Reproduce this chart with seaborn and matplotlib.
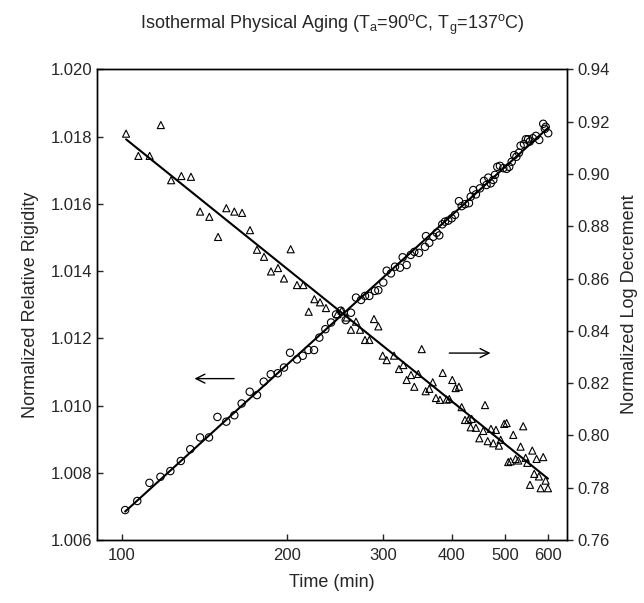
import numpy as np
import seaborn as sns
import matplotlib.pyplot as plt
from matplotlib.ticker import NullLocator, FormatStrFormatter

# Relative rigidity (circles, left axis)
t_rig = [101.3, 106.6, 112.2, 117.5, 122.5, 128.0, 133.2, 138.8, 144.1, 149.3,
         155.0, 160.3, 165.3, 171.0, 176.3, 181.4, 186.8, 192.4, 197.5, 202.6,
         208.6, 213.7, 218.8, 224.1, 229.1, 235.0, 240.7, 245.8, 250.7, 256.0,
         261.7, 267.3, 273.0, 277.6, 282.7, 289.5, 293.6, 299.8, 304.1, 309.6,
         314.9, 321.6, 325.2, 330.7, 336.4, 341.5, 348.3, 357.2, 358.7, 363.7,
         369.9, 375.1, 379.3, 384.1, 388.5, 393.9, 399.6, 405.2, 412.0, 416.7,
         422.6, 429.7, 432.8, 437.5, 442.4, 450.0, 457.7, 462.6, 466.0, 470.8,
         475.9, 479.3, 484.0, 489.4, 496.3, 503.4, 508.9, 514.2, 519.7, 524.5,
         530.2, 533.8, 541.4, 545.8, 550.9, 554.6, 561.9, 569.3, 577.3, 587.1,
         591.1, 593.2, 599.5]
rigidity = [1.00689, 1.00716, 1.00770, 1.00788, 1.00805, 1.00835, 1.00870, 1.00905, 1.00905, 1.00966,
            1.00952, 1.00971, 1.01006, 1.01041, 1.01031, 1.01071, 1.01093, 1.01096, 1.01113, 1.01157,
            1.01137, 1.01148, 1.01165, 1.01165, 1.01202, 1.01227, 1.01247, 1.01271, 1.01282, 1.01254,
            1.01276, 1.01321, 1.01314, 1.01326, 1.01326, 1.01341, 1.01343, 1.01366, 1.01401, 1.01393,
            1.01413, 1.01410, 1.01441, 1.01418, 1.01448, 1.01457, 1.01454, 1.01472, 1.01504, 1.01484,
            1.01502, 1.01514, 1.01506, 1.01539, 1.01547, 1.01550, 1.01557, 1.01567, 1.01608, 1.01593,
            1.01599, 1.01602, 1.01621, 1.01641, 1.01628, 1.01646, 1.01668, 1.01656, 1.01678, 1.01661,
            1.01671, 1.01686, 1.01710, 1.01713, 1.01706, 1.01704, 1.01710, 1.01725, 1.01745, 1.01740,
            1.01752, 1.01773, 1.01778, 1.01792, 1.01792, 1.01785, 1.01795, 1.01802, 1.01790, 1.01838,
            1.01823, 1.01829, 1.01810]

# Log decrement (triangles, right axis)
t_dec = [101.7, 107.1, 112.3, 117.7, 122.9, 128.3, 133.6, 138.8, 144.3, 149.7,
         155.0, 160.3, 165.6, 171.2, 176.3, 181.6, 187.0, 192.6, 197.5, 203.1,
         208.6, 214.2, 219.1, 224.4, 229.8, 235.6, 247.1, 251.7, 257.0, 261.7,
         267.3, 271.8, 277.6, 282.7, 288.3, 293.6, 299.0, 304.1, 313.6, 320.2,
         326.1, 330.7, 336.8, 341.5, 347.3, 352.3, 358.2, 363.7, 369.0, 374.0,
         380.4, 384.8, 391.2, 395.6, 400.6, 406.3, 412.0, 416.7, 422.6, 428.5,
         432.8, 434.6, 442.4, 448.8, 456.3, 459.7, 464.9, 471.3, 475.9, 481.3,
         487.4, 490.9, 498.3, 503.4, 506.8, 511.9, 517.6, 522.8, 528.6, 533.8,
         539.7, 545.2, 549.0, 555.3, 560.7, 565.3, 570.9, 576.6, 580.7, 587.1,
         593.0, 598.9]
log_dec = [0.9154, 0.9069, 0.9069, 0.9187, 0.8976, 0.8992, 0.8989, 0.8856, 0.8836, 0.8759,
           0.8869, 0.8856, 0.8851, 0.8785, 0.8710, 0.8683, 0.8627, 0.8640, 0.8600, 0.8712,
           0.8575, 0.8575, 0.8473, 0.8521, 0.8509, 0.8487, 0.8464, 0.8477, 0.8451, 0.8404,
           0.8435, 0.8404, 0.8365, 0.8365, 0.8445, 0.8417, 0.8305, 0.8288, 0.8305, 0.8254,
           0.8269, 0.8212, 0.8231, 0.8186, 0.8235, 0.8330, 0.8169, 0.8178, 0.8203, 0.8143,
           0.8136, 0.8239, 0.8137, 0.8139, 0.8212, 0.8181, 0.8186, 0.8108, 0.8059, 0.8059,
           0.8031, 0.8063, 0.8029, 0.7989, 0.8017, 0.8116, 0.7978, 0.8025, 0.7970, 0.8021,
           0.7961, 0.7983, 0.8044, 0.8047, 0.7898, 0.7901, 0.8002, 0.7910, 0.7904, 0.7957,
           0.8035, 0.7914, 0.7895, 0.7811, 0.7942, 0.7853, 0.7910, 0.7843, 0.7798, 0.7917,
           0.7827, 0.7798]

x_ticks = [100, 200, 300, 400, 500, 600]
rig_ticks = [1.006, 1.008, 1.010, 1.012, 1.014, 1.016, 1.018, 1.020]
dec_ticks = [0.76, 0.78, 0.80, 0.82, 0.84, 0.86, 0.88, 0.90, 0.92, 0.94]

sns.set_style("white")
plt.rcParams['font.family'] = ['Liberation Sans', 'DejaVu Sans']
plt.rcParams['mathtext.fontset'] = 'custom'
plt.rcParams['mathtext.rm'] = 'Liberation Sans'

fig, ax = plt.subplots(figsize=(6.44, 6.03), dpi=100)
fig.subplots_adjust(left=0.1506, right=0.880, top=0.885, bottom=0.1045)
ax2 = ax.twinx()

sns.regplot(x=t_rig, y=rigidity, ax=ax, logx=True, ci=None, marker='o', color='black',
            scatter_kws=dict(s=28, facecolors='none', edgecolors='black', linewidths=0.8, alpha=1),
            line_kws=dict(color='black', lw=1.5))
sns.regplot(x=t_dec, y=log_dec, ax=ax2, logx=True, ci=None, marker='^', color='black',
            scatter_kws=dict(s=26, facecolors='none', edgecolors='black', linewidths=0.8, alpha=1),
            line_kws=dict(color='black', lw=1.5))

ax.set_xscale('log')
ax.set_xlim(90, 648)
ax.set_xticks(x_ticks)
ax.set_xticklabels([str(v) for v in x_ticks])
ax.xaxis.set_minor_locator(NullLocator())

ax.set_ylim(1.006, 1.020)
ax.set_yticks(rig_ticks)
ax.yaxis.set_major_formatter(FormatStrFormatter('%.3f'))
ax2.set_ylim(0.76, 0.94)
ax2.set_yticks(dec_ticks)
ax2.yaxis.set_major_formatter(FormatStrFormatter('%.2f'))

for spine in list(ax.spines.values()) + list(ax2.spines.values()):
    spine.set_color('black')
    spine.set_linewidth(1.0)

ax.tick_params(axis='x', direction='in', length=4, width=1, labelsize=12, pad=6, bottom=True)
ax.tick_params(axis='y', direction='in', length=4, width=1, labelsize=12, left=True)
ax2.tick_params(axis='y', direction='out', length=4, width=1, labelsize=12, right=True)

ax.set_xlabel('Time (min)', fontsize=13, labelpad=8)
ax.set_ylabel('Normalized Relative Rigidity', fontsize=13, labelpad=8)
ax2.set_ylabel('Normalized Log Decrement', fontsize=13, labelpad=8)

# arrows pointing to the axis each series belongs to
ax.annotate('', xy=(134, 1.0108), xytext=(162, 1.0108),
            arrowprops=dict(arrowstyle='->', color='black', lw=1, mutation_scale=16))
ax.annotate('', xy=(476, 1.01156), xytext=(391, 1.01156),
            arrowprops=dict(arrowstyle='->', color='black', lw=1, mutation_scale=16))

fig.text(0.5155, 0.958,
         r'Isothermal Physical Aging (T$_\mathregular{a}$=90$^\mathregular{o}$C, '
         r'T$_\mathregular{g}$=137$^\mathregular{o}$C)',
         ha='center', va='center', fontsize=13)

plt.savefig('out.png', dpi=100)
